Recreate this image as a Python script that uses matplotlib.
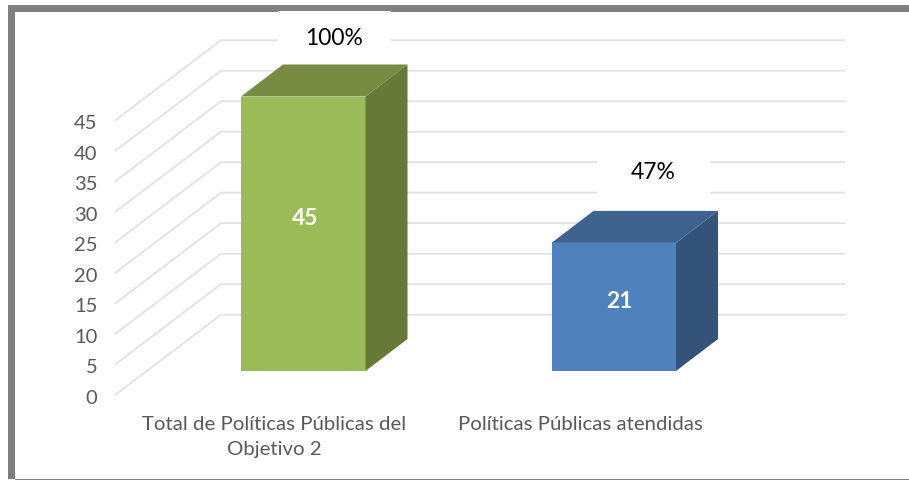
import matplotlib
matplotlib.use("Agg")
import matplotlib.pyplot as plt
from matplotlib.patches import Polygon, Rectangle

plt.rcParams['font.family'] = ['Lato', 'DejaVu Sans']

# Data
categories = ["Total de Políticas Públicas del\nObjetivo 2", "Políticas Públicas atendidas"]
values = [45, 21]
percent_labels = ["100%", "47%"]
y_ticks = [0, 5, 10, 15, 20, 25, 30, 35, 40, 45]

front_colors = ["#9BBB59", "#4F81BD"]
side_colors = ["#667A38", "#335379"]
top_colors = ["#778C42", "#3E638F"]

W, H = 909, 480
PX_CAT = 310.5   # pixels between categories
PX_UNIT = 6.1    # pixels per value unit
X0, Y0 = 303.25, 371.0  # pixel of first bar centre, bar base


def px_x(p):
    return (p - X0) / PX_CAT


def px_y(p):
    return (Y0 - p) / PX_UNIT


fig = plt.figure(figsize=(W / 100, H / 100), dpi=100)
ax = fig.add_axes([0, 0, 1, 1])
ax.set_xlim(px_x(0), px_x(W))
ax.set_ylim(px_y(H), px_y(0))
ax.axis("off")

# depth of the bars and of the wall, in data units
bar_dx = 42 / PX_CAT
bar_dy = 32 / PX_UNIT
wall_left, wall_right = px_x(221), px_x(844)
floor_left = px_x(115.5)
wall_base, floor_base = px_y(314.7), px_y(394.7)

# gridlines + side wall
for v in y_ticks:
    ax.plot([floor_left, wall_left, wall_right], [floor_base + v, wall_base + v, wall_base + v],
            color="#E2E2E2", lw=1.3, zorder=1, solid_joinstyle="miter")
    ax.text(px_x(97.5), floor_base + v - 0.6, str(v), ha="right", va="center", fontsize=14.5,
            color="#595959", zorder=5)

# white boxes behind the percent labels
pct_x = [334, 653]
pct_y = [38.5, 172.5]
box_y = [37, 171]
for i, txt in enumerate(percent_labels):
    half_w = 56.5
    ax.add_patch(Rectangle((px_x(pct_x[i] - half_w), px_y(box_y[i] + 24)), 2 * half_w / PX_CAT, 50 / PX_UNIT,
                           fc="white", ec="none", zorder=3))
    ax.text(px_x(pct_x[i]), px_y(pct_y[i]), txt, ha="center", va="center", fontsize=16.5,
            color="black", zorder=5)

# bars
width = 124.5 / PX_CAT
value_x = [305, 619]
for i, v in enumerate(values):
    l, r = i - width / 2, i + width / 2
    ax.bar(i, v, width=width, color=front_colors[i], zorder=4, linewidth=0)
    ax.add_patch(Polygon([(r, 0), (r + bar_dx, bar_dy), (r + bar_dx, v + bar_dy), (r, v)],
                         fc=side_colors[i], ec="none", zorder=4))
    ax.add_patch(Polygon([(l, v), (l + bar_dx, v + bar_dy), (r + bar_dx, v + bar_dy), (r, v)],
                         fc=top_colors[i], ec="none", zorder=4))
    # data labels sit a bit above the middle of the front face
    ax.text(px_x(value_x[i]), v * 0.565 - 0.4, str(v), ha="center", va="center", fontsize=16.5, fontweight="bold",
            color="white", zorder=6)

# category labels
ax.text(px_x(274), px_y(416), categories[0], ha="center", va="top", fontsize=14.7, color="#595959",
        linespacing=1.59, zorder=5)
ax.text(px_x(580.5), px_y(416), categories[1], ha="center", va="top", fontsize=14.7, color="#595959",
        zorder=5)

# chart frame
frame = "#7F7F7F"
ax.add_patch(Rectangle((px_x(8), px_y(12.5)), (W - 8) / PX_CAT, 7 / PX_UNIT, fc=frame, ec="none", zorder=2))
ax.add_patch(Rectangle((px_x(8), px_y(479)), 7 / PX_CAT, 474 / PX_UNIT, fc=frame, ec="none", zorder=2))
ax.add_patch(Rectangle((px_x(15), px_y(480)), (W - 15) / PX_CAT, 1.2 / PX_UNIT, fc=frame, ec="none", zorder=2))

fig.savefig("out.png", dpi=100)
